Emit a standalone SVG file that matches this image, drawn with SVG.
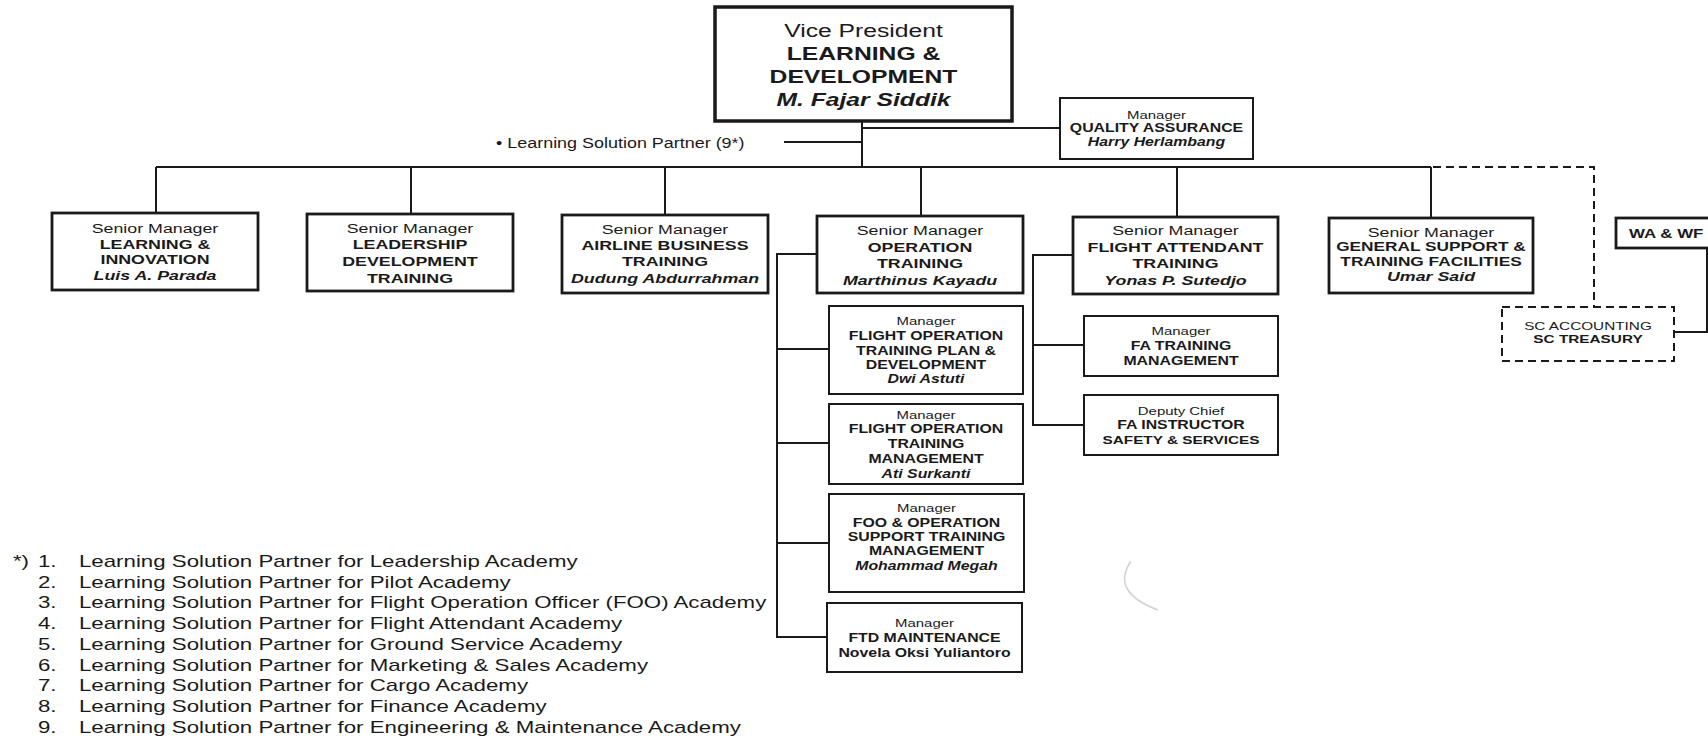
<svg xmlns="http://www.w3.org/2000/svg" width="1708" height="740" viewBox="0 0 1708 740">
<style>
  text { font-family: "Liberation Sans", Arial, sans-serif; fill: #1a1a1a; }
  .c text { text-anchor: middle; }
  .vp { font-size: 19px; }
  .sm { font-size: 13.7px; }
  .sub { font-size: 12.2px; }
  .sc { font-size: 11.8px; }
  .leg { font-size: 17px; }
  .b { font-weight: bold; }
  .bi { font-weight: bold; font-style: italic; }
  .box3 { fill: #fff; stroke: #1a1a1a; stroke-width: 3.5; }
  .box2 { fill: #fff; stroke: #1a1a1a; stroke-width: 2.8; }
  .box1 { fill: #fff; stroke: #1a1a1a; stroke-width: 2; }
  .dash { fill: none; stroke: #1a1a1a; stroke-width: 2; stroke-dasharray: 8 5; }
  .ln { fill: none; stroke: #1a1a1a; stroke-width: 2; }
</style>

<g id="connectors">
  <path class="ln" d="M862 121 V167"/>
  <path class="ln" d="M784 142 H862"/>
  <path class="ln" d="M862 128 H1060"/>
  <path class="ln" d="M156 167 H1431"/>
  <path class="ln" d="M156 167 V213 M411 167 V214 M665 167 V215 M921 167 V216 M1177 167 V217 M1431 167 V218"/>
  <path class="ln" d="M817 254 H777 V637 H827 M777 349 H829 M777 443 H829 M777 543 H829"/>
  <path class="ln" d="M1073 255 H1033 V425 H1084 M1033 345 H1084"/>
  <path class="dash" d="M1225 167 H1594 V307"/>
  <path class="ln" d="M1707 248 V332 H1674"/>
</g>

<g id="vp">
  <rect class="box3" x="715" y="7" width="297" height="114"/>
  <g class="c vp" transform="translate(863.5,0) scale(1.3,1)">
    <text y="37">Vice President</text>
    <text y="60" class="b">LEARNING &amp;</text>
    <text y="83" class="b">DEVELOPMENT</text>
    <text y="106" class="bi">M. Fajar Siddik</text>
  </g>
</g>

<g id="lsp-label">
  <g transform="translate(496,148) scale(1.3,1)">
    <text style="font-size:13.8px">• Learning Solution Partner (9*)</text>
  </g>
</g>

<g id="qa">
  <rect class="box1" x="1060" y="98" width="193" height="61"/>
  <g class="c sub" transform="translate(1156.5,0) scale(1.3,1)">
    <text y="119" style="font-size:11.5px">Manager</text>
    <text y="132" class="b">QUALITY ASSURANCE</text>
    <text y="146" class="bi">Harry Herlambang</text>
  </g>
</g>

<g id="learning-innovation">
  <rect class="box2" x="52" y="213" width="206" height="77"/>
  <g class="c sm" transform="translate(155,0) scale(1.3,1)">
    <text y="233">Senior Manager</text>
    <text y="249" class="b">LEARNING &amp;</text>
    <text y="264" class="b">INNOVATION</text>
    <text y="280" class="bi">Luis A. Parada</text>
  </g>
</g>

<g id="leadership">
  <rect class="box2" x="307" y="214" width="206" height="77"/>
  <g class="c sm" transform="translate(410,0) scale(1.3,1)">
    <text y="233">Senior Manager</text>
    <text y="249" class="b">LEADERSHIP</text>
    <text y="266" class="b">DEVELOPMENT</text>
    <text y="283" class="b">TRAINING</text>
  </g>
</g>

<g id="airline-business">
  <rect class="box2" x="562" y="215" width="206" height="78"/>
  <g class="c sm" transform="translate(665,0) scale(1.3,1)">
    <text y="234">Senior Manager</text>
    <text y="250" class="b">AIRLINE BUSINESS</text>
    <text y="266" class="b">TRAINING</text>
    <text y="283" class="bi">Dudung Abdurrahman</text>
  </g>
</g>

<g id="operation-training">
  <rect class="box2" x="817" y="216" width="206" height="77"/>
  <g class="c sm" transform="translate(920,0) scale(1.3,1)">
    <text y="235">Senior Manager</text>
    <text y="252" class="b">OPERATION</text>
    <text y="268" class="b">TRAINING</text>
    <text y="285" class="bi">Marthinus Kayadu</text>
  </g>
</g>

<g id="flight-attendant">
  <rect class="box2" x="1073" y="217" width="205" height="77"/>
  <g class="c sm" transform="translate(1175.5,0) scale(1.3,1)">
    <text y="235">Senior Manager</text>
    <text y="252" class="b">FLIGHT ATTENDANT</text>
    <text y="268" class="b">TRAINING</text>
    <text y="285" class="bi">Yonas P. Sutedjo</text>
  </g>
</g>

<g id="general-support">
  <rect class="box2" x="1329" y="218" width="204" height="75"/>
  <g class="c sm" transform="translate(1431,0) scale(1.3,1)">
    <text y="237">Senior Manager</text>
    <text y="251" class="b" style="font-size:13.3px">GENERAL SUPPORT &amp;</text>
    <text y="266" class="b" style="font-size:13.3px">TRAINING FACILITIES</text>
    <text y="281" class="bi">Umar Said</text>
  </g>
</g>

<g id="fo-plan">
  <rect class="box1" x="829" y="306" width="194" height="88"/>
  <g class="c sub" transform="translate(926,0) scale(1.3,1)">
    <text y="325" style="font-size:11.5px">Manager</text>
    <text y="340" class="b">FLIGHT OPERATION</text>
    <text y="355" class="b">TRAINING PLAN &amp;</text>
    <text y="369" class="b">DEVELOPMENT</text>
    <text y="383" class="bi">Dwi Astuti</text>
  </g>
</g>

<g id="fo-management">
  <rect class="box1" x="829" y="404" width="194" height="80"/>
  <g class="c sub" transform="translate(926,0) scale(1.3,1)">
    <text y="419" style="font-size:11.5px">Manager</text>
    <text y="433" class="b">FLIGHT OPERATION</text>
    <text y="448" class="b">TRAINING</text>
    <text y="463" class="b">MANAGEMENT</text>
    <text y="478" class="bi">Ati Surkanti</text>
  </g>
</g>

<g id="foo-support">
  <rect class="box1" x="829" y="494" width="195" height="98"/>
  <g class="c sub" transform="translate(926.5,0) scale(1.3,1)">
    <text y="512" style="font-size:11.5px">Manager</text>
    <text y="527" class="b">FOO &amp; OPERATION</text>
    <text y="541" class="b">SUPPORT TRAINING</text>
    <text y="555" class="b">MANAGEMENT</text>
    <text y="570" class="bi">Mohammad Megah</text>
  </g>
</g>

<g id="ftd-maintenance">
  <rect class="box1" x="827" y="603" width="195" height="69"/>
  <g class="c sub" transform="translate(924.5,0) scale(1.3,1)">
    <text y="627" style="font-size:11.5px">Manager</text>
    <text y="642" class="b">FTD MAINTENANCE</text>
    <text y="657" class="b">Novela Oksi Yuliantoro</text>
  </g>
</g>

<g id="fa-training-management">
  <rect class="box1" x="1084" y="316" width="194" height="60"/>
  <g class="c sub" transform="translate(1181,0) scale(1.3,1)">
    <text y="335" style="font-size:11.5px">Manager</text>
    <text y="350" class="b">FA TRAINING</text>
    <text y="365" class="b">MANAGEMENT</text>
  </g>
</g>

<g id="fa-instructor">
  <rect class="box1" x="1084" y="395" width="194" height="60"/>
  <g class="c sub" transform="translate(1181,0) scale(1.3,1)">
    <text y="415" style="font-size:11.5px">Deputy Chief</text>
    <text y="429" class="b">FA INSTRUCTOR</text>
    <text y="444" class="b" style="font-size:11.8px">SAFETY &amp; SERVICES</text>
  </g>
</g>

<g id="sc-accounting">
  <rect class="dash" x="1502" y="307" width="172" height="54"/>
  <g class="c sc" transform="translate(1588,0) scale(1.3,1)">
    <text y="330">SC ACCOUNTING</text>
    <text y="343" class="b">SC TREASURY</text>
  </g>
</g>

<g id="wa-wf">
  <rect class="box2" x="1616" y="218" width="110" height="30"/>
  <g transform="translate(1629,238) scale(1.3,1)">
    <text class="b" style="font-size:13px">WA &amp; WF</text>
  </g>
</g>

<g id="legend">
  <g class="leg" transform="scale(1.31,1)">
    <text x="9.9" y="567">*)</text>
    <text x="29" y="567">1.</text>
    <text x="60.3" y="567">Learning Solution Partner for Leadership Academy</text>
    <text x="29" y="587.8">2.</text>
    <text x="60.3" y="587.8">Learning Solution Partner for Pilot Academy</text>
    <text x="29" y="608.5">3.</text>
    <text x="60.3" y="608.5">Learning Solution Partner for Flight Operation Officer (FOO) Academy</text>
    <text x="29" y="629.3">4.</text>
    <text x="60.3" y="629.3">Learning Solution Partner for Flight Attendant Academy</text>
    <text x="29" y="650">5.</text>
    <text x="60.3" y="650">Learning Solution Partner for Ground Service Academy</text>
    <text x="29" y="670.8">6.</text>
    <text x="60.3" y="670.8">Learning Solution Partner for Marketing &amp; Sales Academy</text>
    <text x="29" y="691.5">7.</text>
    <text x="60.3" y="691.5">Learning Solution Partner for Cargo Academy</text>
    <text x="29" y="712.3">8.</text>
    <text x="60.3" y="712.3">Learning Solution Partner for Finance Academy</text>
    <text x="29" y="733">9.</text>
    <text x="60.3" y="733">Learning Solution Partner for Engineering &amp; Maintenance Academy</text>
  </g>
</g>

<path d="M1131 561 Q1110 592 1158 610" fill="none" stroke="#d4d4d4" stroke-width="1.6"/>
</svg>
